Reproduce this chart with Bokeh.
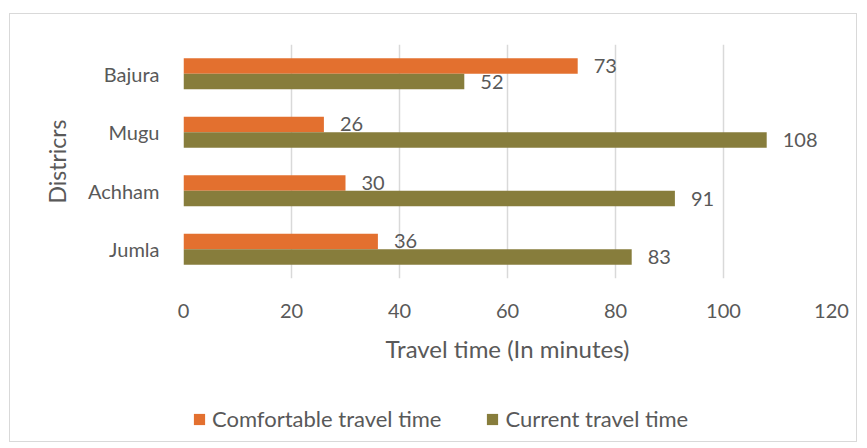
from bokeh.plotting import figure
from bokeh.layouts import column
from bokeh.models import ColumnDataSource, Legend, LegendItem
from bokeh.transform import dodge
from bokeh.core.properties import value
from bokeh.embed import file_html
from bokeh.resources import INLINE

districts = ["Bajura", "Mugu", "Achham", "Jumla"]
comfortable = [73, 26, 30, 36]
current = [52, 108, 91, 83]
x_ticks = [0, 20, 40, 60, 80, 100, 120]
series_names = ["Comfortable travel time", "Current travel time"]

FONT = "Lato"
GRAY = "#595959"
ORANGE = "#E3702F"
OLIVE = "#877D3C"

src = ColumnDataSource(dict(
    district=districts,
    comfortable=comfortable,
    current=current,
    comfortable_lbl=[str(v) for v in comfortable],
    current_lbl=[str(v) for v in current],
))

W = 846
H_MAIN = 380
H_LEG = 47

p = figure(width=W, height=H_MAIN, x_range=(0, 120), y_range=list(reversed(districts)),
           output_backend="svg", toolbar_location=None,
           min_border_left=172, min_border_right=25, min_border_top=30, min_border_bottom=116)
p.outline_line_color = None
p.background_fill_color = "white"
p.border_fill_color = "white"

bw = 0.265
r1 = p.hbar(y=dodge("district", bw / 2, range=p.y_range), right="comfortable", left=0, height=bw,
            source=src, fill_color=ORANGE, line_color=None)
r2 = p.hbar(y=dodge("district", -bw / 2, range=p.y_range), right="current", left=0, height=bw,
            source=src, fill_color=OLIVE, line_color=None)

p.text(x="comfortable", y=dodge("district", bw / 2, range=p.y_range), text="comfortable_lbl", source=src,
       x_offset=16, text_baseline="middle", text_font=value(FONT), text_font_size="20px", text_color=GRAY)
p.text(x="current", y=dodge("district", -bw / 2, range=p.y_range), text="current_lbl", source=src,
       x_offset=16, text_baseline="middle", text_font=value(FONT), text_font_size="20px", text_color=GRAY)

p.xaxis.ticker = x_ticks
p.xaxis.axis_line_color = None
p.xaxis.major_tick_line_color = None
p.xaxis.minor_tick_line_color = None
p.xaxis.major_label_standoff = 19
p.xaxis.major_label_text_font = FONT
p.xaxis.major_label_text_font_size = "20px"
p.xaxis.major_label_text_color = GRAY
p.xaxis.axis_label = "Travel time (In minutes)"
p.xaxis.axis_label_text_font = FONT
p.xaxis.axis_label_text_font_size = "24px"
p.xaxis.axis_label_text_font_style = "normal"
p.xaxis.axis_label_text_color = GRAY
p.xaxis.axis_label_standoff = 13

p.yaxis.axis_line_color = None
p.yaxis.major_tick_line_color = None
p.yaxis.minor_tick_line_color = None
p.yaxis.major_label_standoff = 18
p.yaxis.major_label_text_font = FONT
p.yaxis.major_label_text_font_size = "20px"
p.yaxis.major_label_text_color = GRAY
p.yaxis.axis_label = "Districrs"
p.yaxis.axis_label_text_font = FONT
p.yaxis.axis_label_text_font_size = "23px"
p.yaxis.axis_label_text_font_style = "normal"
p.yaxis.axis_label_text_color = GRAY
p.yaxis.axis_label_standoff = 14

p.xgrid.grid_line_color = "#D9D9D9"
p.xgrid.grid_line_width = 1.5
p.ygrid.grid_line_color = None

# legend strip
pl = figure(width=W, height=H_LEG, x_range=(0, 1), y_range=(0, 1),
            output_backend="svg", toolbar_location=None,
            x_axis_type=None, y_axis_type=None,
            min_border_left=173, min_border_right=0, min_border_top=0, min_border_bottom=0)
pl.outline_line_color = None
pl.grid.visible = False
pl.border_fill_color = "white"
dummy = ColumnDataSource(dict(y=[-10], right=[0.5]))
l1 = pl.hbar(y="y", right="right", height=0.1, source=dummy, fill_color=ORANGE, line_color=None)
l2 = pl.hbar(y="y", right="right", height=0.1, source=dummy, fill_color=OLIVE, line_color=None)
legend = Legend(items=[LegendItem(label=series_names[0], renderers=[l1]),
                       LegendItem(label=series_names[1], renderers=[l2])],
                orientation="horizontal", location="bottom_left",
                label_text_font=FONT, label_text_font_size="22px", label_text_color=GRAY,
                glyph_width=14, glyph_height=14, label_standoff=6, spacing=44,
                border_line_color=None, background_fill_alpha=0, padding=0, margin=9)
pl.add_layout(legend, "center")

lay = column(p, pl, spacing=0)
lay.margin = (13, 0, 0, 9)
lay.styles = {"border": "1px solid #D9D9D9"}

open("out.html", "w").write(file_html(lay, INLINE))
